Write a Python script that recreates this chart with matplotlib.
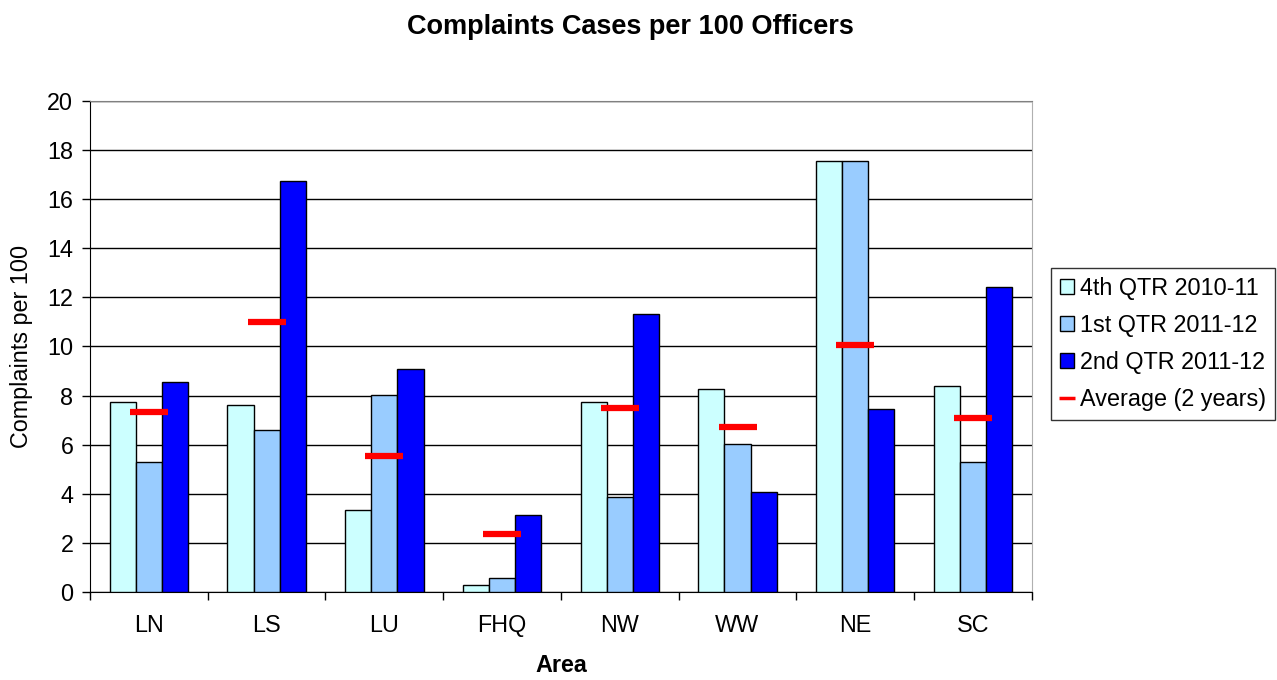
import numpy as np
import matplotlib.pyplot as plt

plt.rcParams['font.family'] = ['Liberation Sans', 'DejaVu Sans']

areas = ['LN', 'LS', 'LU', 'FHQ', 'NW', 'WW', 'NE', 'SC']
q4_2010 = [7.74, 7.60, 3.34, 0.29, 7.74, 8.25, 17.56, 8.40]
q1_2011 = [5.29, 6.61, 8.03, 0.58, 3.87, 6.01, 17.56, 5.28]
q2_2011 = [8.55, 16.76, 9.08, 3.12, 11.31, 4.07, 7.44, 12.42]
average = [7.33, 10.98, 5.55, 2.35, 7.48, 6.73, 10.08, 7.10]

series = [
    ('4th QTR 2010-11', q4_2010, '#CCFFFF'),
    ('1st QTR 2011-12', q1_2011, '#99CCFF'),
    ('2nd QTR 2011-12', q2_2011, '#0000FF'),
]

fs = 16.8

fig = plt.figure(figsize=(12.77, 6.8), dpi=100)
ax = fig.add_axes([0.0705, 0.1294, 0.7375, 0.7221])

x = np.arange(len(areas))
w = 0.222
for i, (name, vals, col) in enumerate(series):
    ax.bar(x + (i - 1) * w, vals, w, color=col, edgecolor='black',
           linewidth=1, label=name, zorder=3)

ax.plot(x, average, linestyle='none', marker='_', markersize=27,
        markeredgewidth=4.5, color='#FF0000', label='Average (2 years)', zorder=4)

ax.set_xlim(-0.5, len(areas) - 0.5)
ax.set_ylim(0, 20)
ax.set_yticks(np.arange(0, 21, 2))
ax.yaxis.grid(True, color='black', linewidth=1, zorder=0)
ax.set_axisbelow(True)

ax.set_xticks(x)
ax.set_xticklabels(areas)
ax.set_xticks(np.arange(-0.5, len(areas)), minor=True)
ax.tick_params(axis='x', which='major', length=0, labelsize=fs, pad=16)
ax.tick_params(axis='x', which='minor', length=6, width=1, color='black')
ax.tick_params(axis='y', length=6, width=1, labelsize=fs, pad=6)

ax.spines['top'].set_color('#808080')
ax.spines['right'].set_color('#B0B0B0')
ax.spines['left'].set_color('black')
ax.spines['bottom'].set_color('black')

ax.set_xlabel('Area', fontsize=fs, fontweight='bold', labelpad=12)
ax.set_ylabel('Complaints per 100', fontsize=fs, labelpad=10)
fig.suptitle('Complaints Cases per 100 Officers', fontsize=19.5,
             fontweight='bold', x=0.494, y=0.98)

handles, labels = ax.get_legend_handles_labels()
leg = ax.legend(handles[1:] + handles[:1], labels[1:] + labels[:1],
                loc='center left', bbox_to_anchor=(1.01, 0.505), fontsize=fs,
                frameon=True, fancybox=False, edgecolor='black',
                handlelength=0.6, handleheight=0.6, handletextpad=0.25,
                labelspacing=0.6, borderpad=0.4, borderaxespad=0.4)
leg.get_frame().set_linewidth(1)
for h in leg.legend_handles:
    if hasattr(h, 'set_markersize'):
        h.set_markersize(12)
        h.set_markeredgewidth(2.5)

fig.savefig('out.png', dpi=100)
